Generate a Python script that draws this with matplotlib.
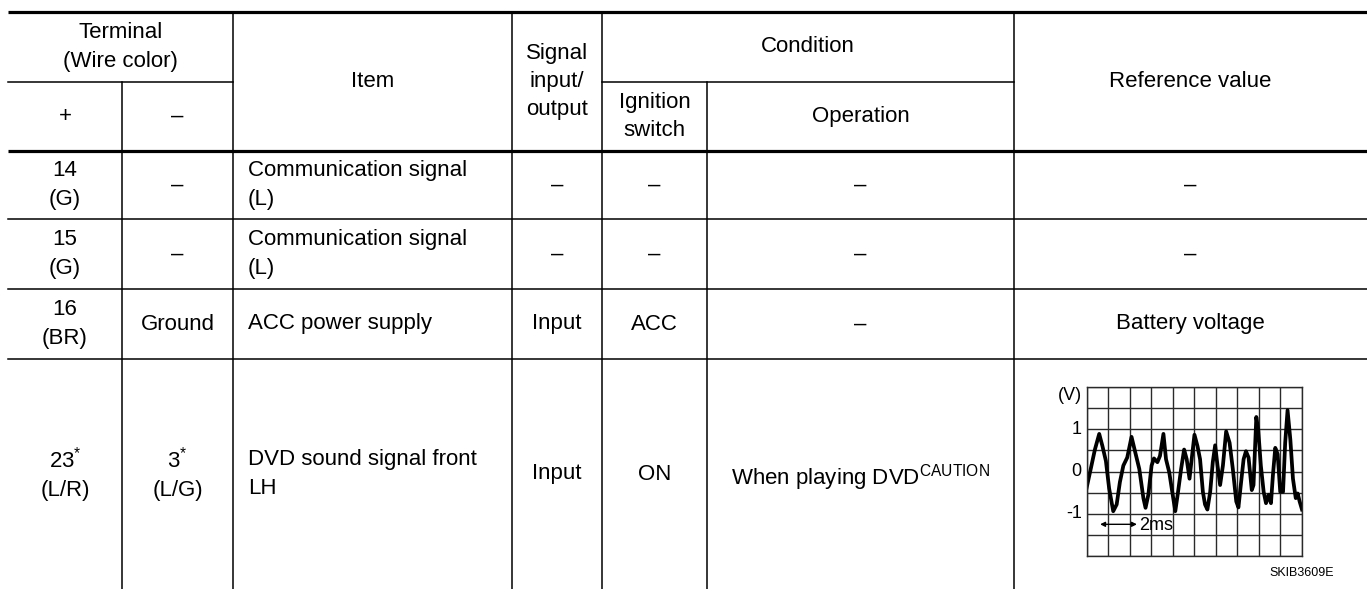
import numpy as np
import matplotlib.pyplot as plt

plt.rcParams['font.family'] = ['Liberation Sans', 'DejaVu Sans']
plt.rcParams['mathtext.fontset'] = 'custom'
plt.rcParams['mathtext.rm'] = 'Liberation Sans'
plt.rcParams['mathtext.it'] = 'Liberation Sans'

# table content
plus_col = ['14\n(G)', '15\n(G)', '16\n(BR)', '23$^{*}$\n(L/R)']
minus_col = ['–', '–', 'Ground', '3$^{*}$\n(L/G)']
item_col = ['Communication signal\n(L)', 'Communication signal\n(L)',
            'ACC power supply', 'DVD sound signal front\nLH']
signal_col = ['–', '–', 'Input', 'Input']
ignition_col = ['–', '–', 'ACC', 'ON']
operation_col = ['–', '–', '–', r'When playing DVD$^{\mathrm{CAUTION}}$']
reference_col = ['–', '–', 'Battery voltage', None]

# waveform of the DVD sound signal (x in grid divisions, y in volts)
wave_t = [0.00, 0.23, 0.39, 0.59, 0.74, 0.90, 1.05, 1.24, 1.40, 1.55, 1.71, 1.89,
          2.09, 2.25, 2.45, 2.64, 2.74, 2.87, 3.02, 3.13, 3.29, 3.41, 3.57, 3.69,
          3.84, 4.00, 4.12, 4.23, 4.39, 4.53, 4.65, 4.78, 4.88, 5.01, 5.15, 5.27,
          5.40, 5.50, 5.61, 5.74, 5.86, 5.97, 6.08, 6.20, 6.33, 6.48, 6.64, 6.79,
          6.95, 7.05, 7.16, 7.29, 7.40, 7.52, 7.67, 7.75, 7.88, 7.97, 8.09, 8.22,
          8.33, 8.45, 8.56, 8.65, 8.76, 8.87, 8.99, 9.12, 9.22, 9.33, 9.46, 9.58,
          9.71, 9.80, 9.89, 10.00]
wave_v = [-0.40, 0.14, 0.52, 0.89, 0.60, 0.25, -0.40, -0.94, -0.78, -0.25, 0.14, 0.33,
          0.82, 0.48, 0.06, -0.63, -0.86, -0.55, 0.14, 0.31, 0.22, 0.37, 0.89, 0.29,
          -0.02, -0.55, -0.94, -0.55, 0.06, 0.52, 0.29, -0.17, 0.29, 0.87, 0.60, 0.29,
          -0.48, -0.78, -0.90, -0.48, 0.22, 0.62, 0.14, -0.32, 0.14, 0.95, 0.68, 0.06,
          -0.71, -0.85, -0.32, 0.29, 0.48, 0.33, -0.44, -0.32, 1.29, 0.98, 0.14, -0.48,
          -0.75, -0.55, -0.75, -0.09, 0.56, 0.41, -0.48, -0.48, 0.68, 1.45, 0.75, -0.17,
          -0.63, -0.52, -0.71, -0.90]
volt_ticks = [1, 0, -1]

W, H = 1367, 589
fig = plt.figure(figsize=(W / 100, H / 100), dpi=100)
ax = fig.add_axes([0, 0, 1, 1])
ax.set_xlim(0, W)
ax.set_ylim(H, 0)
ax.axis('off')

# column edges and row edges in pixels
x0, xr = 8, W
cx = [8, 122, 233, 512, 602, 707, 1014, W]
y_top, y_mid, y_head = 12, 82, 151
row_edges = [151, 219, 289, 359, H]

thick, thin = 2.3, 1.1
k = 'black'
ax.plot([x0, xr], [y_top, y_top], color=k, lw=thick, solid_capstyle='butt')
ax.plot([x0, xr], [y_head, y_head], color=k, lw=thick, solid_capstyle='butt')
for y in row_edges[1:-1]:
    ax.plot([x0, xr], [y, y], color=k, lw=thin)
ax.plot([cx[0], cx[2]], [y_mid, y_mid], color=k, lw=thin)
ax.plot([cx[4], cx[6]], [y_mid, y_mid], color=k, lw=thin)
for i in [2, 3, 4, 6]:
    ax.plot([cx[i], cx[i]], [y_top, H], color=k, lw=thin)
for i in [1, 5]:
    ax.plot([cx[i], cx[i]], [y_mid, H], color=k, lw=thin)

fs = 16
ls = 1.45
def ctext(x, y, s, ha='center', size=fs):
    ax.text(x, y, s, ha=ha, va='center', fontsize=size, linespacing=ls,
            multialignment=ha)

# header
ctext((cx[0] + cx[2]) / 2, (y_top + y_mid) / 2, 'Terminal\n(Wire color)')
ctext((cx[0] + cx[1]) / 2, (y_mid + y_head) / 2, '+')
ctext((cx[1] + cx[2]) / 2, (y_mid + y_head) / 2, '–')
ctext((cx[2] + cx[3]) / 2, (y_top + y_head) / 2, 'Item')
ctext((cx[3] + cx[4]) / 2, (y_top + y_head) / 2, 'Signal\ninput/\noutput')
ctext((cx[4] + cx[6]) / 2, (y_top + y_mid) / 2, 'Condition')
ctext((cx[4] + cx[5]) / 2, (y_mid + y_head) / 2, 'Ignition\nswitch')
ctext((cx[5] + cx[6]) / 2, (y_mid + y_head) / 2, 'Operation')
ctext((cx[6] + cx[7]) / 2, (y_top + y_head) / 2, 'Reference value')

# body rows
for r in range(len(plus_col)):
    yc = (row_edges[r] + row_edges[r + 1]) / 2
    ctext((cx[0] + cx[1]) / 2, yc, plus_col[r])
    ctext((cx[1] + cx[2]) / 2, yc, minus_col[r])
    ctext(cx[2] + 15, yc, item_col[r], ha='left')
    ctext((cx[3] + cx[4]) / 2, yc, signal_col[r])
    ctext((cx[4] + cx[5]) / 2, yc, ignition_col[r])
    y_op = yc + 4 if r == len(plus_col) - 1 else yc
    ctext((cx[5] + cx[6]) / 2, y_op, operation_col[r])
    if reference_col[r] is not None:
        ctext((cx[6] + cx[7]) / 2, yc, reference_col[r])

# oscilloscope picture
gl, gr, gt, gb = 1086.5, 1302, 387, 556
wax = fig.add_axes([gl / W, 1 - gb / H, (gr - gl) / W, (gb - gt) / H])
wax.set_xlim(0, 10)
wax.set_ylim(-2, 2)
wax.set_xticks(np.arange(0, 11, 1))
wax.set_yticks(np.arange(-2, 2.01, 0.5))
wax.grid(True, color='#2a2a2a', lw=1.0)
wax.tick_params(length=0, labelbottom=False, labelleft=False)
for s in wax.spines.values():
    s.set_color('#2a2a2a')
    s.set_linewidth(1.0)
wax.plot(wave_t, wave_v, color='black', lw=2.7, solid_joinstyle='round')

for v in volt_ticks:
    wax.text(-0.22, v, str(v), ha='right', va='center', fontsize=13)
wax.text(-0.2, 1.8, '(V)', ha='right', va='center', fontsize=13)
wax.annotate('', xy=(0.63, -1.25), xytext=(2.34, -1.25),
             arrowprops=dict(arrowstyle='<|-|>', color='black', lw=1.0,
                             mutation_scale=7, shrinkA=0, shrinkB=0))
wax.text(2.45, -1.27, '2ms', ha='left', va='center', fontsize=13)

ax.text(1334, 573, 'SKIB3609E', ha='right', va='center', fontsize=9)

fig.savefig('out.png', dpi=100)
